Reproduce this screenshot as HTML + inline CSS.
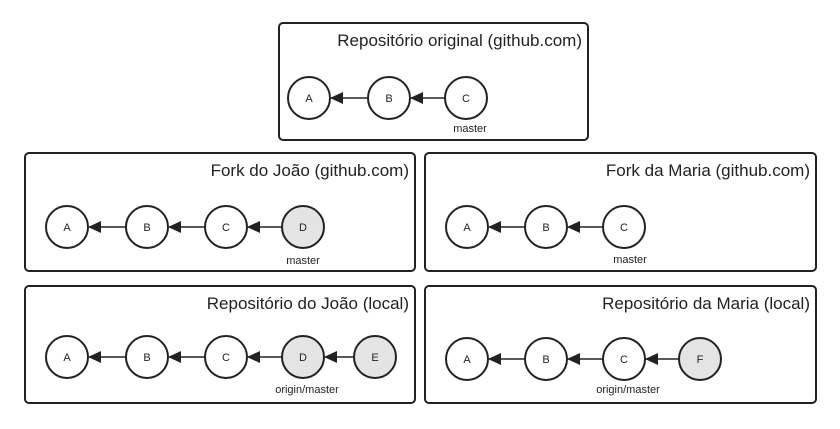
<!DOCTYPE html>
<html><head><meta charset="utf-8"><style>
html,body{margin:0;padding:0;background:#fff;}
svg{display:block;}
text{font-family:"Liberation Sans",sans-serif;fill:#222;}
.t{font-size:17px;text-anchor:end;}
.n{font-size:11px;text-anchor:middle;}
.l{font-size:11px;text-anchor:middle;}
circle{stroke:#222;stroke-width:2;fill:#fff;}
circle.g{fill:#e4e4e4;}
rect{fill:#fff;stroke:#222;stroke-width:2;}
line{stroke:#222;stroke-width:1.6;}
</style></head><body>
<svg width="840" height="429" viewBox="0 0 840 429">
<defs><marker id="ar" markerWidth="13" markerHeight="12" refX="12" refY="6" orient="auto" markerUnits="userSpaceOnUse"><path d="M0,0 L13,6 L0,12 z" fill="#222"/></marker></defs>

<rect x="279" y="23" width="309" height="117" rx="4"/>
<text class="t" x="582" y="46">Repositório original (github.com)</text>
<line x1="368" y1="98" x2="331" y2="98" marker-end="url(#ar)"/>
<line x1="445" y1="98" x2="411" y2="98" marker-end="url(#ar)"/>
<circle cx="309" cy="98" r="21"/><text class="n" x="309" y="102">A</text>
<circle cx="389" cy="98" r="21"/><text class="n" x="389" y="102">B</text>
<circle cx="466" cy="98" r="21"/><text class="n" x="466" y="102">C</text>
<text class="l" x="470" y="132">master</text>

<rect x="25" y="153" width="390" height="118" rx="4"/>
<text class="t" x="409" y="176">Fork do João (github.com)</text>
<line x1="126" y1="227" x2="89" y2="227" marker-end="url(#ar)"/>
<line x1="205" y1="227" x2="169" y2="227" marker-end="url(#ar)"/>
<line x1="282" y1="227" x2="248" y2="227" marker-end="url(#ar)"/>
<circle cx="67" cy="227" r="21"/><text class="n" x="67" y="231">A</text>
<circle cx="147" cy="227" r="21"/><text class="n" x="147" y="231">B</text>
<circle cx="226" cy="227" r="21"/><text class="n" x="226" y="231">C</text>
<circle class="g" cx="303" cy="227" r="21"/><text class="n" x="303" y="231">D</text>
<text class="l" x="303" y="264">master</text>

<rect x="425" y="153" width="391" height="118" rx="4"/>
<text class="t" x="810" y="176">Fork da Maria (github.com)</text>
<line x1="525" y1="227" x2="489" y2="227" marker-end="url(#ar)"/>
<line x1="603" y1="227" x2="568" y2="227" marker-end="url(#ar)"/>
<circle cx="467" cy="227" r="21"/><text class="n" x="467" y="231">A</text>
<circle cx="546" cy="227" r="21"/><text class="n" x="546" y="231">B</text>
<circle cx="624" cy="227" r="21"/><text class="n" x="624" y="231">C</text>
<text class="l" x="630" y="263">master</text>

<rect x="25" y="286" width="390" height="117" rx="4"/>
<text class="t" x="409" y="309">Repositório do João (local)</text>
<line x1="126" y1="357" x2="89" y2="357" marker-end="url(#ar)"/>
<line x1="205" y1="357" x2="169" y2="357" marker-end="url(#ar)"/>
<line x1="282" y1="357" x2="248" y2="357" marker-end="url(#ar)"/>
<line x1="354" y1="357" x2="325" y2="357" marker-end="url(#ar)"/>
<circle cx="67" cy="357" r="21"/><text class="n" x="67" y="361">A</text>
<circle cx="147" cy="357" r="21"/><text class="n" x="147" y="361">B</text>
<circle cx="226" cy="357" r="21"/><text class="n" x="226" y="361">C</text>
<circle class="g" cx="303" cy="357" r="21"/><text class="n" x="303" y="361">D</text>
<circle class="g" cx="375" cy="357" r="21"/><text class="n" x="375" y="361">E</text>
<text class="l" x="307" y="393">origin/master</text>

<rect x="425" y="286" width="391" height="117" rx="4"/>
<text class="t" x="810" y="309">Repositório da Maria (local)</text>
<line x1="525" y1="359" x2="489" y2="359" marker-end="url(#ar)"/>
<line x1="603" y1="359" x2="568" y2="359" marker-end="url(#ar)"/>
<line x1="679" y1="359" x2="646" y2="359" marker-end="url(#ar)"/>
<circle cx="467" cy="359" r="21"/><text class="n" x="467" y="363">A</text>
<circle cx="546" cy="359" r="21"/><text class="n" x="546" y="363">B</text>
<circle cx="624" cy="359" r="21"/><text class="n" x="624" y="363">C</text>
<circle class="g" cx="700" cy="359" r="21"/><text class="n" x="700" y="363">F</text>
<text class="l" x="628" y="393">origin/master</text>
</svg>
</body></html>
